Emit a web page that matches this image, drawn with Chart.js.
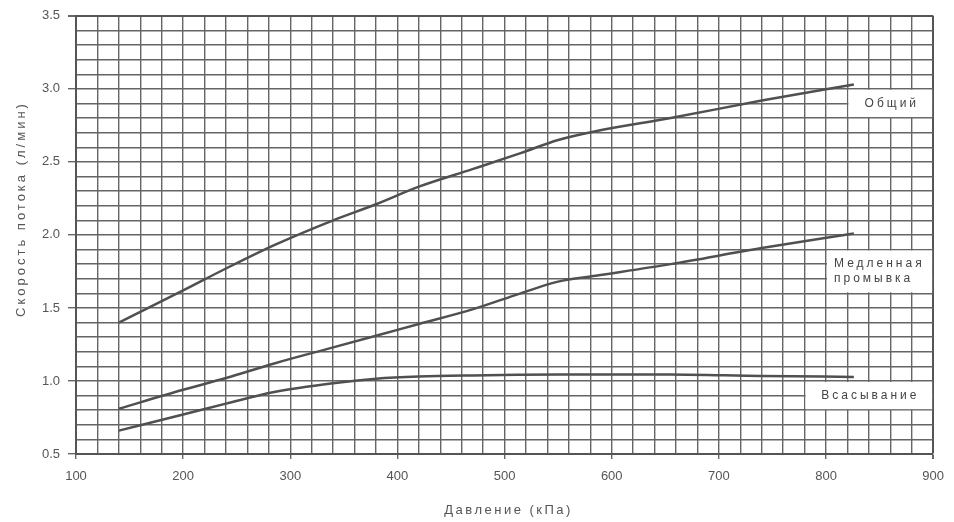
<!DOCTYPE html>
<html>
<head>
<meta charset="utf-8">
<script src="https://cdn.jsdelivr.net/npm/chart.js@4.4.0/dist/chart.umd.min.js"></script>
<style>
  html, body { margin: 0; padding: 0; background: #fff; }
</style>
</head>
<body>
<canvas id="chart" width="954" height="522"></canvas>
<script>
// DATA
const pressure = [140, 200, 240, 285, 340, 380, 420, 470, 515, 550, 585, 655, 740, 826];
const totalFlow = [1.40, 1.62, 1.77, 1.93, 2.10, 2.21, 2.33, 2.45, 2.56, 2.65, 2.71, 2.80, 2.92, 3.03];
const slowRinse = [0.81, 0.94, 1.02, 1.12, 1.23, 1.31, 1.39, 1.49, 1.60, 1.68, 1.72, 1.80, 1.91, 2.01];
const suction = [0.66, 0.77, 0.845, 0.925, 0.985, 1.015, 1.03, 1.038, 1.042, 1.044, 1.045, 1.044, 1.034, 1.028];
const seriesNames = ['Общий', 'Медленная промывка', 'Всасывание'];
const xTicks = [100, 200, 300, 400, 500, 600, 700, 800, 900];
const yTicks = [0.5, 1.0, 1.5, 2.0, 2.5, 3.0, 3.5];
const xTitle = 'Давление (кПа)';
const yTitle = 'Скорость потока (л/мин)';

const lineColor = '#505050';
const gridColor = '#656565';
const textColor = '#555';

const toPoints = ys => pressure.map((x, i) => ({ x: x, y: ys[i] }));
const isMajor = (v, list) => list.some(t => Math.abs(t - v) < 1e-6);

// label boxes at the right side of the plot (grid cells they cover)
const tags = [
  { lines: ['Общий'], x0: 820, y0: 3.0, y1: 2.8, align: 'center' },
  { lines: ['Медленная', 'промывка'], x0: 800, y0: 1.9, y1: 1.6, align: 'left' },
  { lines: ['Всасывание'], x0: 780, y0: 1.0, y1: 0.8, align: 'center' }
];

const textPlugin = {
  id: 'texts',
  afterDraw(chart) {
    const ctx = chart.ctx, xs = chart.scales.x, ys = chart.scales.y, a = chart.chartArea;
    ctx.save();
    ctx.textBaseline = 'middle';

    // tags
    ctx.font = '12px "Liberation Sans", Arial, sans-serif';
    ctx.letterSpacing = '3px';
    tags.forEach(t => {
      const l = xs.getPixelForValue(t.x0), r = a.right;
      const top = ys.getPixelForValue(t.y0), bot = ys.getPixelForValue(t.y1);
      ctx.fillStyle = '#fff';
      ctx.fillRect(l + 1, top + 1, r - l - 2, bot - top - 2);
      ctx.fillStyle = '#444';
      const cy = (top + bot) / 2, lh = 15;
      t.lines.forEach((s, i) => {
        const y = cy + (i - (t.lines.length - 1) / 2) * lh;
        if (t.align === 'center') {
          ctx.textAlign = 'center';
          ctx.fillText(s, (l + r) / 2 + 1.5, y);
        } else {
          ctx.textAlign = 'left';
          ctx.fillText(s, l + 8, y);
        }
      });
    });

    // axis titles
    ctx.fillStyle = textColor;
    ctx.font = '13px "Liberation Sans", Arial, sans-serif';
    ctx.letterSpacing = '2.5px';
    ctx.textAlign = 'center';
    ctx.fillText(xTitle, (a.left + a.right) / 2 + 4, 510);

    ctx.letterSpacing = '3px';
    ctx.translate(21, 209);
    ctx.rotate(-Math.PI / 2);
    ctx.fillText(yTitle, 0, 0);
    ctx.restore();
  }
};

new Chart(document.getElementById('chart'), {
  type: 'line',
  data: {
    datasets: [
      { label: seriesNames[0], data: toPoints(totalFlow) },
      { label: seriesNames[1], data: toPoints(slowRinse) },
      { label: seriesNames[2], data: toPoints(suction) }
    ].map(d => Object.assign(d, {
      borderColor: lineColor,
      borderWidth: 2.5,
      pointRadius: 0,
      fill: false,
      cubicInterpolationMode: 'monotone'
    }))
  },
  options: {
    responsive: false,
    animation: false,
    layout: { padding: { top: 14, right: 16, left: 0, bottom: 0 } },
    plugins: {
      legend: { display: false },
      tooltip: { enabled: false }
    },
    scales: {
      x: {
        type: 'linear',
        min: 100,
        max: 900,
        afterFit(scale) { scale.height = 68; },
        ticks: {
          stepSize: 20,
          autoSkip: false,
          maxRotation: 0,
          padding: 10,
          color: textColor,
          font: { size: 13, family: '"Liberation Sans", Arial, sans-serif' },
          callback: v => isMajor(v, xTicks) ? String(Math.round(v)) : ''
        },
        grid: {
          color: ctx => (ctx.tick && (ctx.tick.value === 900)) ? '#555' : gridColor,
          lineWidth: ctx => (ctx.tick && ctx.tick.value === 900) ? 2 : 1.4,
          tickLength: 5,
          tickColor: ctx => (ctx.tick && isMajor(ctx.tick.value, xTicks)) ? '#666' : 'rgba(0,0,0,0)'
        },
        border: { color: '#555', width: 2 }
      },
      y: {
        min: 0.5,
        max: 3.5,
        afterFit(scale) { scale.width = 76; },
        ticks: {
          stepSize: 0.1,
          autoSkip: false,
          padding: 8,
          color: textColor,
          font: { size: 13, family: '"Liberation Sans", Arial, sans-serif' },
          callback: v => isMajor(v, yTicks) ? v.toFixed(1) : ''
        },
        grid: {
          color: ctx => (ctx.tick && Math.abs(ctx.tick.value - 3.5) < 1e-6) ? '#555' : gridColor,
          lineWidth: ctx => (ctx.tick && Math.abs(ctx.tick.value - 3.5) < 1e-6) ? 2 : 1.4,
          tickLength: 8,
          tickColor: ctx => (ctx.tick && isMajor(ctx.tick.value, yTicks)) ? '#666' : 'rgba(0,0,0,0)'
        },
        border: { color: '#555', width: 2 }
      }
    }
  },
  plugins: [textPlugin]
});
</script>
</body>
</html>
